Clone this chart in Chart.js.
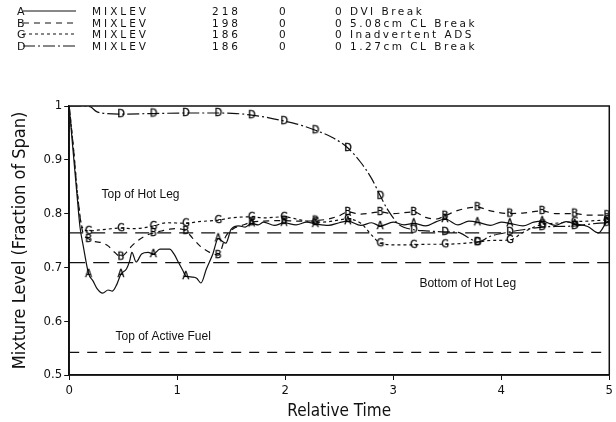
<!DOCTYPE html>
<html>
<head>
<meta charset="utf-8">
<script src="https://cdn.jsdelivr.net/npm/chart.js@4.4.1/dist/chart.umd.min.js"></script>
<style>
  html, body { margin: 0; padding: 0; background: #fff; }
  #wrap { position: relative; width: 616px; height: 422px; overflow: hidden; }
  #chart { position: absolute; left: 0; top: 0; }
  #legend { position: absolute; left: 0; top: 0; width: 616px; height: 60px;
            font-family: 'DejaVu Sans', sans-serif; font-size: 10.5px; color: #111; }
  .row { position: absolute; left: 0; height: 12px; width: 616px; white-space: nowrap; }
  .row span { position: absolute; top: 0; letter-spacing: 3px; line-height: 12px; }
  .row span.desc { letter-spacing: 2.5px; }
  .row svg { position: absolute; top: 0; left: 16px; }
</style>
</head>
<body>
<div id="wrap">
  <canvas id="chart" width="616" height="422"></canvas>
  <div id="legend"></div>
</div>
<script>
// legend table
const legendLetters = ['A', 'B', 'G', 'D'];
const legendCodes = ['MIXLEV', 'MIXLEV', 'MIXLEV', 'MIXLEV'];
const legendCounts = ['218', '198', '186', '186'];
const legendZeros = ['0', '0', '0', '0'];
const legendDescs = ['0 DVI Break', '0 5.08cm CL Break', '0 Inadvertent ADS', '0 1.27cm CL Break'];

// axis ticks
const xTicks = [0, 1, 2, 3, 4, 5];
const yTicks = [0.5, 0.6, 0.7, 0.8, 0.9, 1];

// reference levels (fraction of span)
const topHotLeg = 0.764;
const bottomHotLeg = 0.709;
const topActiveFuel = 0.542;
const levelLabels = ['Top of Hot Leg', 'Bottom of Hot Leg', 'Top of Active Fuel'];
const levelLabelPos = [[0.66, 0.836], [3.69, 0.669], [0.87, 0.572]];

// [relative time, mixture level]
const seriesA = [
  [0, 1.0], [0.03, 0.93], [0.07, 0.84], [0.1, 0.775], [0.13, 0.74], [0.18, 0.688],
  [0.22, 0.675], [0.26, 0.66], [0.31, 0.652], [0.36, 0.658], [0.4, 0.656], [0.44, 0.668],
  [0.48, 0.688], [0.53, 0.697], [0.56, 0.712], [0.58, 0.728], [0.62, 0.71], [0.67, 0.725],
  [0.73, 0.728], [0.78, 0.725], [0.84, 0.734], [0.93, 0.734], [0.97, 0.725], [1.01, 0.71],
  [1.05, 0.695], [1.08, 0.684], [1.14, 0.682], [1.18, 0.68], [1.22, 0.671], [1.27, 0.697],
  [1.33, 0.725], [1.38, 0.754], [1.42, 0.748], [1.45, 0.745], [1.5, 0.771], [1.57, 0.777],
  [1.63, 0.775], [1.69, 0.782], [1.75, 0.779], [1.8, 0.784], [1.9, 0.778], [1.99, 0.783],
  [2.1, 0.779], [2.2, 0.784], [2.28, 0.781], [2.4, 0.778], [2.5, 0.783], [2.58, 0.786],
  [2.7, 0.778], [2.8, 0.783], [2.88, 0.777], [3.0, 0.784], [3.1, 0.779], [3.19, 0.782],
  [3.3, 0.777], [3.4, 0.785], [3.48, 0.79], [3.6, 0.779], [3.7, 0.786], [3.78, 0.784],
  [3.9, 0.778], [4.0, 0.784], [4.08, 0.782], [4.2, 0.777], [4.3, 0.784], [4.38, 0.786],
  [4.5, 0.778], [4.6, 0.785], [4.68, 0.781], [4.8, 0.776], [4.9, 0.764], [4.98, 0.785], [5, 0.786]
];
const seriesB = [
  [0, 1.0], [0.04, 0.92], [0.08, 0.83], [0.12, 0.77], [0.18, 0.753], [0.24, 0.748],
  [0.3, 0.746], [0.36, 0.74], [0.42, 0.728], [0.48, 0.72], [0.53, 0.728], [0.58, 0.74],
  [0.65, 0.752], [0.72, 0.76], [0.78, 0.764], [0.86, 0.768], [0.93, 0.771], [1.0, 0.772],
  [1.08, 0.768], [1.14, 0.755], [1.21, 0.74], [1.3, 0.728], [1.38, 0.723], [1.45, 0.758],
  [1.52, 0.772], [1.6, 0.778], [1.69, 0.784], [1.8, 0.786], [1.99, 0.787], [2.1, 0.786],
  [2.28, 0.787], [2.4, 0.79], [2.5, 0.796], [2.58, 0.803], [2.7, 0.799], [2.88, 0.803],
  [3.0, 0.8], [3.19, 0.803], [3.3, 0.793], [3.4, 0.79], [3.48, 0.796], [3.6, 0.806],
  [3.78, 0.812], [3.9, 0.805], [4.08, 0.8], [4.2, 0.801], [4.38, 0.805], [4.5, 0.8],
  [4.68, 0.8], [4.8, 0.797], [4.98, 0.797], [5, 0.797]
];
const seriesG = [
  [0, 1.0], [0.04, 0.92], [0.08, 0.83], [0.12, 0.775], [0.18, 0.768], [0.3, 0.77],
  [0.48, 0.773], [0.6, 0.772], [0.78, 0.777], [0.9, 0.783], [1.08, 0.782], [1.2, 0.785],
  [1.38, 0.788], [1.5, 0.792], [1.69, 0.794], [1.8, 0.792], [1.99, 0.794], [2.1, 0.79],
  [2.28, 0.784], [2.4, 0.785], [2.58, 0.79], [2.7, 0.782], [2.8, 0.76], [2.88, 0.745],
  [3.0, 0.742], [3.19, 0.742], [3.3, 0.743], [3.48, 0.743], [3.6, 0.744], [3.78, 0.747],
  [3.9, 0.75], [4.08, 0.751], [4.2, 0.765], [4.38, 0.78], [4.5, 0.782], [4.68, 0.785],
  [4.8, 0.786], [4.98, 0.788], [5, 0.788]
];
const seriesD = [
  [0, 1.0], [0.15, 1.0], [0.2, 0.998], [0.25, 0.99], [0.3, 0.987], [0.48, 0.985],
  [0.78, 0.986], [1.08, 0.987], [1.38, 0.987], [1.55, 0.986], [1.69, 0.983], [1.85, 0.978],
  [1.99, 0.972], [2.15, 0.964], [2.28, 0.955], [2.45, 0.94], [2.58, 0.922], [2.7, 0.895],
  [2.8, 0.865], [2.88, 0.833], [2.94, 0.81], [2.99, 0.795], [3.05, 0.78], [3.19, 0.77],
  [3.3, 0.768], [3.48, 0.766], [3.6, 0.765], [3.7, 0.755], [3.78, 0.747], [3.9, 0.758],
  [4.08, 0.766], [4.2, 0.77], [4.38, 0.775], [4.5, 0.776], [4.68, 0.777], [4.8, 0.78],
  [4.98, 0.783], [5, 0.783]
];

// times where the letter symbols sit on each curve
const markersABG = [0.18, 0.48, 0.78, 1.08, 1.38, 1.69, 1.99, 2.28, 2.58, 2.88, 3.19, 3.48, 3.78, 4.08, 4.38, 4.68, 4.98];
const markersD = [0.48, 0.78, 1.08, 1.38, 1.69, 1.99, 2.28, 2.58, 2.88, 3.19, 3.48, 3.78, 4.08, 4.38, 4.68, 4.98];

const dashes = { A: [], B: [6, 5], G: [3, 3], D: [12, 3, 2, 3] };
const ink = '#111';

function buildLegend() {
    const box = document.getElementById('legend');
    const rowTops = [5, 17, 28, 40];
    legendLetters.forEach((l, i) => {
        const d = dashes[l].join(' ');
        const row = document.createElement('div');
        row.className = 'row';
        row.style.top = rowTops[i] + 'px';
        row.innerHTML = `
            <svg width="62" height="12"><text x="1" y="10" font-family="DejaVu Sans" font-size="11" fill="${ink}">${l}</text>
            <line x1="7" y1="6" x2="60" y2="6" stroke="${ink}" stroke-width="1.2" stroke-dasharray="${d}"/></svg>
            <span style="left:92px">${legendCodes[i]}</span>
            <span style="left:212px">${legendCounts[i]}</span>
            <span style="left:279px">${legendZeros[i]}</span>
            <span class="desc" style="left:335px">${legendDescs[i]}</span>`;
        box.appendChild(row);
    });
}

function letterCanvas(letter) {
    const c = document.createElement('canvas');
    c.width = 12;
    c.height = 14;
    const g = c.getContext('2d');
    g.font = '11px "DejaVu Sans Condensed", "DejaVu Sans", sans-serif';
    g.fillStyle = '#000';
    g.strokeStyle = '#000';
    g.lineWidth = 0.3;
    g.textAlign = 'center';
    g.textBaseline = 'middle';
    g.fillText(letter, 6, 7.5);
    g.strokeText(letter, 6, 7.5);
    return c;
}

function curve(points, letter, markers) {
    const symbol = letterCanvas(letter);
    return {
        data: points.map(([x, y]) => ({ x, y })),
        borderColor: ink,
        borderWidth: 1.2,
        borderDash: dashes[letter],
        cubicInterpolationMode: 'monotone',
        pointStyle: symbol,
        pointRadius: ctx => (ctx.raw && markers.includes(ctx.raw.x) ? 4 : 0),
        pointHoverRadius: 0
    };
}

function level(value, dash) {
    return {
        data: [{ x: 0, y: value }, { x: 5, y: value }],
        borderColor: ink,
        borderWidth: 1.3,
        borderDash: dash,
        pointRadius: 0
    };
}

const frame = {
    id: 'frame',
    afterDraw(chart) {
        const { ctx, chartArea: a, scales } = chart;
        ctx.save();
        ctx.strokeStyle = ink;
        ctx.lineWidth = 1.5;
        ctx.strokeRect(a.left, a.top, a.right - a.left, a.bottom - a.top);
        ctx.font = '12px "Liberation Sans", Arial, sans-serif';
        ctx.fillStyle = ink;
        ctx.textAlign = 'center';
        ctx.textBaseline = 'middle';
        levelLabels.forEach((t, i) => {
            const [x, y] = levelLabelPos[i];
            ctx.fillText(t, scales.x.getPixelForValue(x), scales.y.getPixelForValue(y));
        });
        ctx.restore();
    }
};

const tickFont = { family: '"DejaVu Sans Condensed", "DejaVu Sans", sans-serif', size: 13 };
const titleFont = { family: '"DejaVu Sans Condensed", "DejaVu Sans", sans-serif', size: 17 };
const yTitleFont = { family: '"DejaVu Sans Condensed", "DejaVu Sans", sans-serif', size: 18 };

function init() {
    buildLegend();
    new Chart(document.getElementById('chart'), {
        type: 'line',
        data: {
            datasets: [
                level(topHotLeg, [14, 8]),
                level(bottomHotLeg, [16, 8]),
                level(topActiveFuel, [10, 8]),
                curve(seriesA, 'A', markersABG),
                curve(seriesB, 'B', markersABG),
                curve(seriesG, 'G', markersABG),
                curve(seriesD, 'D', markersD)
            ]
        },
        options: {
            responsive: false,
            animation: false,
            layout: { padding: { top: 106, right: 2, left: 8, bottom: 0 } },
            plugins: { legend: { display: false }, tooltip: { enabled: false } },
            scales: {
                x: {
                    type: 'linear', min: 0, max: 5,
                    afterBuildTicks: s => { s.ticks = xTicks.map(v => ({ value: v })); },
                    ticks: { color: ink, font: tickFont, padding: 3 },
                    grid: { drawOnChartArea: false, color: ink, tickLength: 5 },
                    border: { color: ink, width: 1.5 },
                    title: { display: true, text: 'Relative Time', color: ink,
                             padding: { top: 0, bottom: 0 }, font: titleFont }
                },
                y: {
                    type: 'linear', min: 0.5, max: 1,
                    afterBuildTicks: s => { s.ticks = yTicks.map(v => ({ value: v })); },
                    ticks: { color: ink, font: tickFont, padding: 2,
                             callback: v => (v === 1 ? '1' : v.toFixed(1)) },
                    grid: { drawOnChartArea: false, color: ink, tickLength: 5 },
                    border: { color: ink, width: 1.5 },
                    title: { display: true, text: 'Mixture Level (Fraction of Span)', color: ink,
                             padding: { top: 2, bottom: 10 }, font: yTitleFont }
                }
            }
        },
        plugins: [frame]
    });
}

document.addEventListener('DOMContentLoaded', init);
</script>
</body>
</html>
